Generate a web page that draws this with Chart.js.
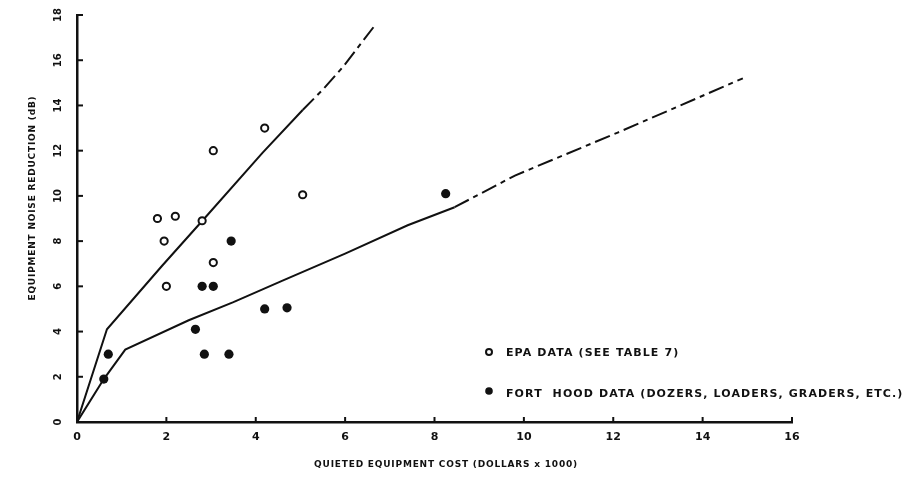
<!DOCTYPE html>
<html><head><meta charset="utf-8">
<script src="https://cdn.jsdelivr.net/npm/chart.js@4/dist/chart.umd.min.js"></script>
<style>html,body{margin:0;padding:0;background:#fff}#wrap{width:909px;height:494px}</style>
</head><body><div id="wrap"><canvas id="c" width="909" height="494"></canvas></div>
<script>
// ---- data ----
const xTickValues = [0, 2, 4, 6, 8, 10, 12, 14, 16];
const yTickValues = [0, 2, 4, 6, 8, 10, 12, 14, 16, 18];
const xTitle = 'QUIETED EQUIPMENT COST (DOLLARS x 1000)';
const yTitle = 'EQUIPMENT NOISE REDUCTION (dB)';
const epaLabel = 'EPA DATA (SEE TABLE 7)';
const fortHoodLabel = 'FORT  HOOD DATA (DOZERS, LOADERS, GRADERS, ETC.)';

// open circles
const epaPoints = [
  [1.8, 9.0], [2.2, 9.1], [2.8, 8.9], [1.95, 8.0], [2.0, 6.0],
  [3.05, 7.05], [3.05, 12.0], [4.2, 13.0], [5.05, 10.05]
];
// filled circles
const fortHoodPoints = [
  [0.6, 1.9], [0.7, 3.0], [2.65, 4.1], [2.85, 3.0], [3.4, 3.0],
  [2.8, 6.0], [3.05, 6.0], [3.45, 8.0], [4.2, 5.0], [4.7, 5.05], [8.25, 10.1]
];
// upper curve
const upperSolid = [[0, 0], [0.67, 4.1], [1.9, 6.9], [2.85, 9.0], [4.15, 11.9], [5.05, 13.8]];
const upperDashed = [[5.05, 13.8], [5.5, 14.7], [5.95, 15.7], [6.65, 17.5]];
// lower curve
const lowerSolid = [[0, 0], [0.6, 1.9], [1.08, 3.2], [2.5, 4.5], [3.5, 5.3], [4.6, 6.25], [6.0, 7.45], [7.4, 8.7], [8.45, 9.5]];
const lowerDashed = [[8.45, 9.5], [9.8, 10.9], [12.1, 12.8], [14.9, 15.2]];

const toXY = arr => arr.map(p => ({x: p[0], y: p[1]}));
const FONT = "'DejaVu Sans', sans-serif";
const INK = '#111';

const lineDs = (data, dash) => ({
  type: 'scatter', data: toXY(data), showLine: true, pointRadius: 0, pointHoverRadius: 0,
  borderColor: INK, borderWidth: 2, borderDash: dash, tension: 0, fill: false, order: 2
});

const decor = {
  id: 'decor',
  afterDraw(chart) {
    const ctx = chart.ctx;
    const xs = chart.scales.x, ys = chart.scales.y;
    const area = chart.chartArea;
    ctx.save();
    ctx.strokeStyle = INK; ctx.fillStyle = INK; ctx.lineWidth = 2;
    // inward tick marks
    xTickValues.forEach(v => {
      if (v === 0) return;
      const px = xs.getPixelForValue(v);
      ctx.beginPath(); ctx.moveTo(px, area.bottom); ctx.lineTo(px, area.bottom - 5); ctx.stroke();
    });
    yTickValues.forEach(v => {
      if (v === 0) return;
      const py = ys.getPixelForValue(v);
      ctx.beginPath(); ctx.moveTo(area.left, py); ctx.lineTo(area.left + 6, py); ctx.stroke();
    });
    // rotated y tick labels
    ctx.font = 'bold 10px ' + FONT;
    ctx.textAlign = 'center'; ctx.textBaseline = 'middle';
    yTickValues.forEach(v => {
      const py = ys.getPixelForValue(v);
      ctx.save(); ctx.translate(58, py); ctx.rotate(-Math.PI / 2); ctx.fillText(String(v), 0, 0); ctx.restore();
    });
    // y title
    ctx.font = 'bold 9px ' + FONT;
    ctx.save(); ctx.translate(33, 198); ctx.rotate(-Math.PI / 2);
    if ('letterSpacing' in ctx) ctx.letterSpacing = '0.8px';
    ctx.fillText(yTitle, 0, 0); ctx.restore();
    // x title
    ctx.save();
    if ('letterSpacing' in ctx) ctx.letterSpacing = '0.8px';
    ctx.fillText(xTitle, 446, 465);
    ctx.restore();
    // legend
    ctx.font = 'bold 11px ' + FONT;
    ctx.textAlign = 'left';
    if ('letterSpacing' in ctx) ctx.letterSpacing = '1.1px';
    ctx.beginPath(); ctx.lineWidth = 2; ctx.arc(489, 352, 3, 0, Math.PI * 2); ctx.stroke();
    ctx.fillText(epaLabel, 506, 353);
    ctx.beginPath(); ctx.arc(489, 391, 3.8, 0, Math.PI * 2); ctx.fill();
    ctx.fillText(fortHoodLabel, 506, 394);
    ctx.restore();
  }
};

new Chart(document.getElementById('c'), {
  type: 'scatter',
  data: {
    datasets: [
      lineDs(upperSolid, []),
      lineDs(upperDashed, [16, 5, 5, 5]),
      lineDs(lowerSolid, []),
      lineDs(lowerDashed, [16, 5, 5, 5]),
      { type: 'scatter', label: epaLabel, data: toXY(epaPoints), pointRadius: 3.6, pointBorderWidth: 2,
        pointBackgroundColor: '#fff', pointBorderColor: INK, order: 1 },
      { type: 'scatter', label: fortHoodLabel, data: toXY(fortHoodPoints), pointRadius: 4.6, pointBorderWidth: 0,
        pointBackgroundColor: INK, pointBorderColor: INK, order: 0 }
    ]
  },
  options: {
    responsive: false, animation: false, devicePixelRatio: 1,
    layout: { padding: { left: 0, right: 117, top: 15, bottom: 0 } },
    plugins: { legend: { display: false }, tooltip: { enabled: false } },
    scales: {
      x: {
        type: 'linear', min: 0, max: 16,
        afterBuildTicks: s => { s.ticks = xTickValues.map(v => ({value: v})); },
        afterFit: s => { s.height = 72; },
        grid: { display: false, drawTicks: false },
        border: { display: true, color: INK, width: 2.5 },
        ticks: { color: INK, font: { family: FONT, size: 11, weight: 'bold' }, padding: 9, maxRotation: 0 },
        title: { display: false }
      },
      y: {
        type: 'linear', min: 0, max: 18,
        afterBuildTicks: s => { s.ticks = yTickValues.map(v => ({value: v})); },
        afterFit: s => { s.width = 77; },
        grid: { display: false, drawTicks: false },
        border: { display: true, color: INK, width: 2.5 },
        ticks: { display: false }
      }
    }
  },
  plugins: [decor]
});
</script>
</body></html>
